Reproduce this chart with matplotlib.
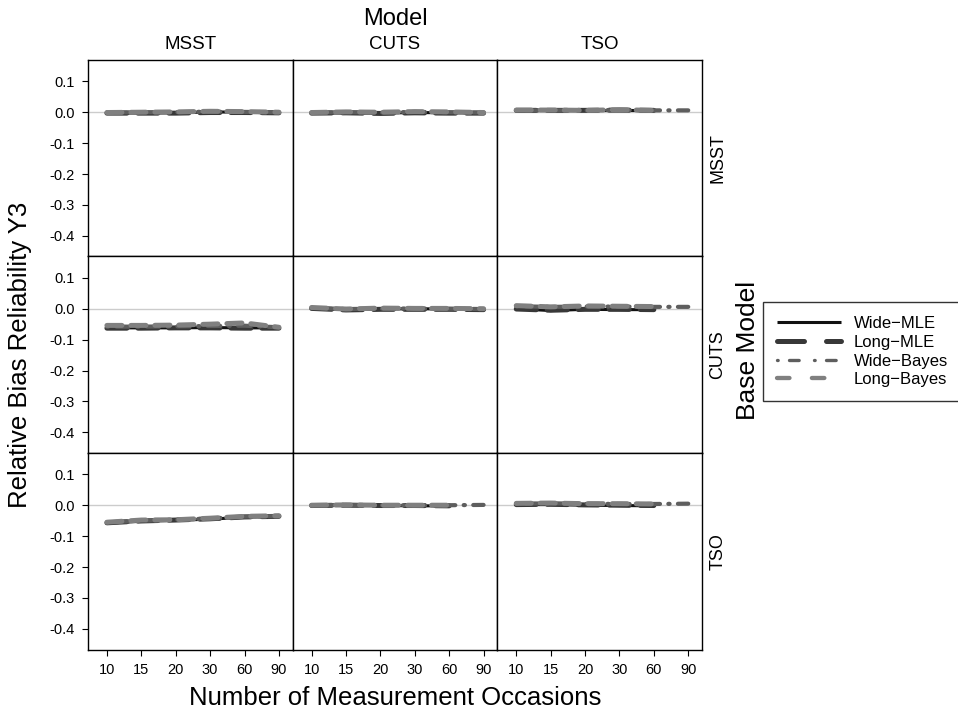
import numpy as np
import matplotlib
matplotlib.use("Agg")
import matplotlib.pyplot as plt
from matplotlib.lines import Line2D

plt.rcParams['font.family'] = ['Liberation Sans', 'DejaVu Sans']

occasions = ["10", "15", "20", "30", "60", "90"]
fit_models = ["MSST", "CUTS", "TSO"]
base_models = ["MSST", "CUTS", "TSO"]
series_names = ["Wide\u2212MLE", "Long\u2212MLE", "Wide\u2212Bayes", "Long\u2212Bayes"]

nan = np.nan
# relative bias per panel: rows = Wide-MLE, Long-MLE, Wide-Bayes, Long-Bayes
base_msst_fit_msst = [[-0.002, -0.003, -0.002, 0.001, 0.000, -0.001],
                      [-0.003, -0.003, -0.003, -0.001, -0.001, -0.002],
                      [-0.001, 0.000, 0.000, 0.002, 0.001, 0.000],
                      [-0.001, 0.000, 0.001, 0.003, 0.002, 0.000]]
base_msst_fit_cuts = [[-0.002, -0.003, -0.003, -0.001, -0.002, -0.002],
                      [-0.003, -0.002, -0.004, -0.002, -0.003, -0.003],
                      [-0.001, 0.000, -0.001, 0.001, 0.000, -0.001],
                      [-0.001, 0.001, 0.000, 0.002, 0.001, -0.001]]
base_msst_fit_tso = [[0.006, 0.006, 0.006, 0.006, 0.006, nan],
                     [0.006, 0.006, 0.006, 0.007, 0.006, nan],
                     [0.006, 0.006, 0.006, 0.007, 0.006, 0.006],
                     [0.007, 0.007, 0.006, 0.008, 0.006, nan]]
base_cuts_fit_msst = [[-0.062, -0.062, -0.062, -0.061, -0.062, -0.062],
                      [-0.063, -0.063, -0.062, -0.062, -0.063, -0.063],
                      [-0.058, -0.058, -0.057, -0.056, -0.055, -0.060],
                      [-0.054, -0.054, -0.053, -0.050, -0.046, -0.060]]
base_cuts_fit_cuts = [[0.002, -0.003, -0.001, 0.000, -0.001, -0.002],
                      [0.001, -0.004, -0.002, -0.002, -0.002, -0.003],
                      [0.003, -0.001, 0.000, 0.001, 0.000, -0.001],
                      [0.004, -0.001, 0.002, 0.001, 0.001, 0.000]]
base_cuts_fit_tso = [[0.000, -0.006, -0.002, -0.003, -0.003, nan],
                     [-0.001, -0.005, -0.002, -0.002, -0.003, nan],
                     [0.008, 0.006, 0.007, 0.007, 0.006, 0.006],
                     [0.010, 0.006, 0.009, 0.008, 0.007, nan]]
base_tso_fit_msst = [[-0.058, -0.052, -0.049, -0.045, -0.039, -0.036],
                     [-0.057, -0.051, -0.048, -0.044, -0.038, -0.036],
                     [-0.056, -0.050, -0.047, -0.043, -0.037, -0.035],
                     [-0.055, -0.048, -0.047, -0.042, -0.036, -0.034]]
base_tso_fit_cuts = [[-0.001, -0.001, -0.001, -0.002, -0.002, nan],
                     [-0.001, 0.000, -0.001, -0.001, -0.002, nan],
                     [0.000, 0.001, 0.000, 0.000, 0.000, 0.001],
                     [0.000, 0.001, 0.000, 0.000, 0.000, nan]]
base_tso_fit_tso = [[0.002, 0.002, 0.000, -0.001, -0.002, nan],
                    [0.002, 0.003, 0.001, 0.000, -0.001, nan],
                    [0.005, 0.006, 0.005, 0.004, 0.004, 0.005],
                    [0.006, 0.007, 0.005, 0.005, 0.004, nan]]

panels = [[base_msst_fit_msst, base_msst_fit_cuts, base_msst_fit_tso],
          [base_cuts_fit_msst, base_cuts_fit_cuts, base_cuts_fit_tso],
          [base_tso_fit_msst, base_tso_fit_cuts, base_tso_fit_tso]]

yticks = [0.1, 0.0, -0.1, -0.2, -0.3, -0.4]

# line styles for the four estimation approaches (dash lengths in linewidth units)
colors = ["#111111", "#383838", "#5e5e5e", "#808080"]
dashes = ["-", (0, (5.4, 4.4)), (0, (0.2, 3.4, 2.9, 4.6)), (0, (2.9, 5.2))]
panel_lw = [2.2, 3.6, 3.0, 3.6]
panel_dashes = ["-", (0, (4.0, 2.2)), (0, (0.3, 2.0, 3.0, 2.0)), (0, (3.0, 1.8))]
legend_lw = [2.2, 3.6, 2.4, 3.1]

W, H = 958, 711
fig = plt.figure(figsize=(W / 100, H / 100), dpi=100)

left, right = 88, 702
top, bottom = 60, 649.5
pw = (right - left) / 3
ph = (bottom - top) / 3
x = np.arange(1, 7)

for r in range(3):
    for c in range(3):
        ax = fig.add_axes([(left + c * pw) / W, 1 - (top + (r + 1) * ph) / H, pw / W, ph / H])
        ax.axhline(0, color="#cccccc", lw=1.0, zorder=1)
        for k in range(4):
            ax.plot(x, panels[r][c][k], color=colors[k], lw=panel_lw[k], ls=panel_dashes[k],
                    dash_capstyle="round", solid_capstyle="round", zorder=2 + k)
        ax.set_xlim(0.45, 6.4)
        ax.set_ylim(-0.467, 0.169)
        for s in ax.spines.values():
            s.set_linewidth(1.0)
            s.set_color("black")
        ax.set_yticks(yticks)
        ax.set_xticks(x)
        ax.tick_params(direction="out", length=4.5, width=0.8, labelsize=10.5, pad=5)
        if c == 0:
            ax.set_yticklabels([f"{v:.1f}" for v in yticks])
        else:
            ax.tick_params(axis="y", left=False, labelleft=False)
        if r == 2:
            ax.set_xticklabels(occasions)
        else:
            ax.tick_params(axis="x", bottom=False, labelbottom=False)
        if r == 0:
            ax.set_title(fit_models[c], fontsize=13.5, pad=8)
        if c == 2:
            ax.text(1 + 16 / pw, 0.5, base_models[r], transform=ax.transAxes, rotation=90,
                    ha="center", va="center", fontsize=13)

fig.text((left + right) / 2 / W, 1 - 19 / H, "Model", ha="center", va="center", fontsize=17)
fig.text((left + right) / 2 / W, 1 - 698 / H, "Number of Measurement Occasions",
         ha="center", va="center", fontsize=18.5)
fig.text(20 / W, 1 - (top + bottom) / 2 / H, "Relative Bias Reliability Y3",
         rotation=90, ha="center", va="center", fontsize=18.5)
fig.text(748 / W, 1 - 350 / H, "Base Model", rotation=90, ha="center", va="center", fontsize=19)

handles = [Line2D([], [], color=colors[k], lw=legend_lw[k], ls=dashes[k],
                  dash_capstyle="round", solid_capstyle="butt")
           for k in range(4)]
leg = fig.legend(handles, series_names, loc="upper left",
                 bbox_to_anchor=(763 / W, 1 - 302 / H), fontsize=12,
                 frameon=True, fancybox=False, edgecolor="black",
                 handlelength=3.8, handletextpad=0.8, labelspacing=0.22,
                 borderpad=0.85, borderaxespad=0)
leg.get_frame().set_linewidth(1.0)

fig.savefig("out.png", dpi=100)
